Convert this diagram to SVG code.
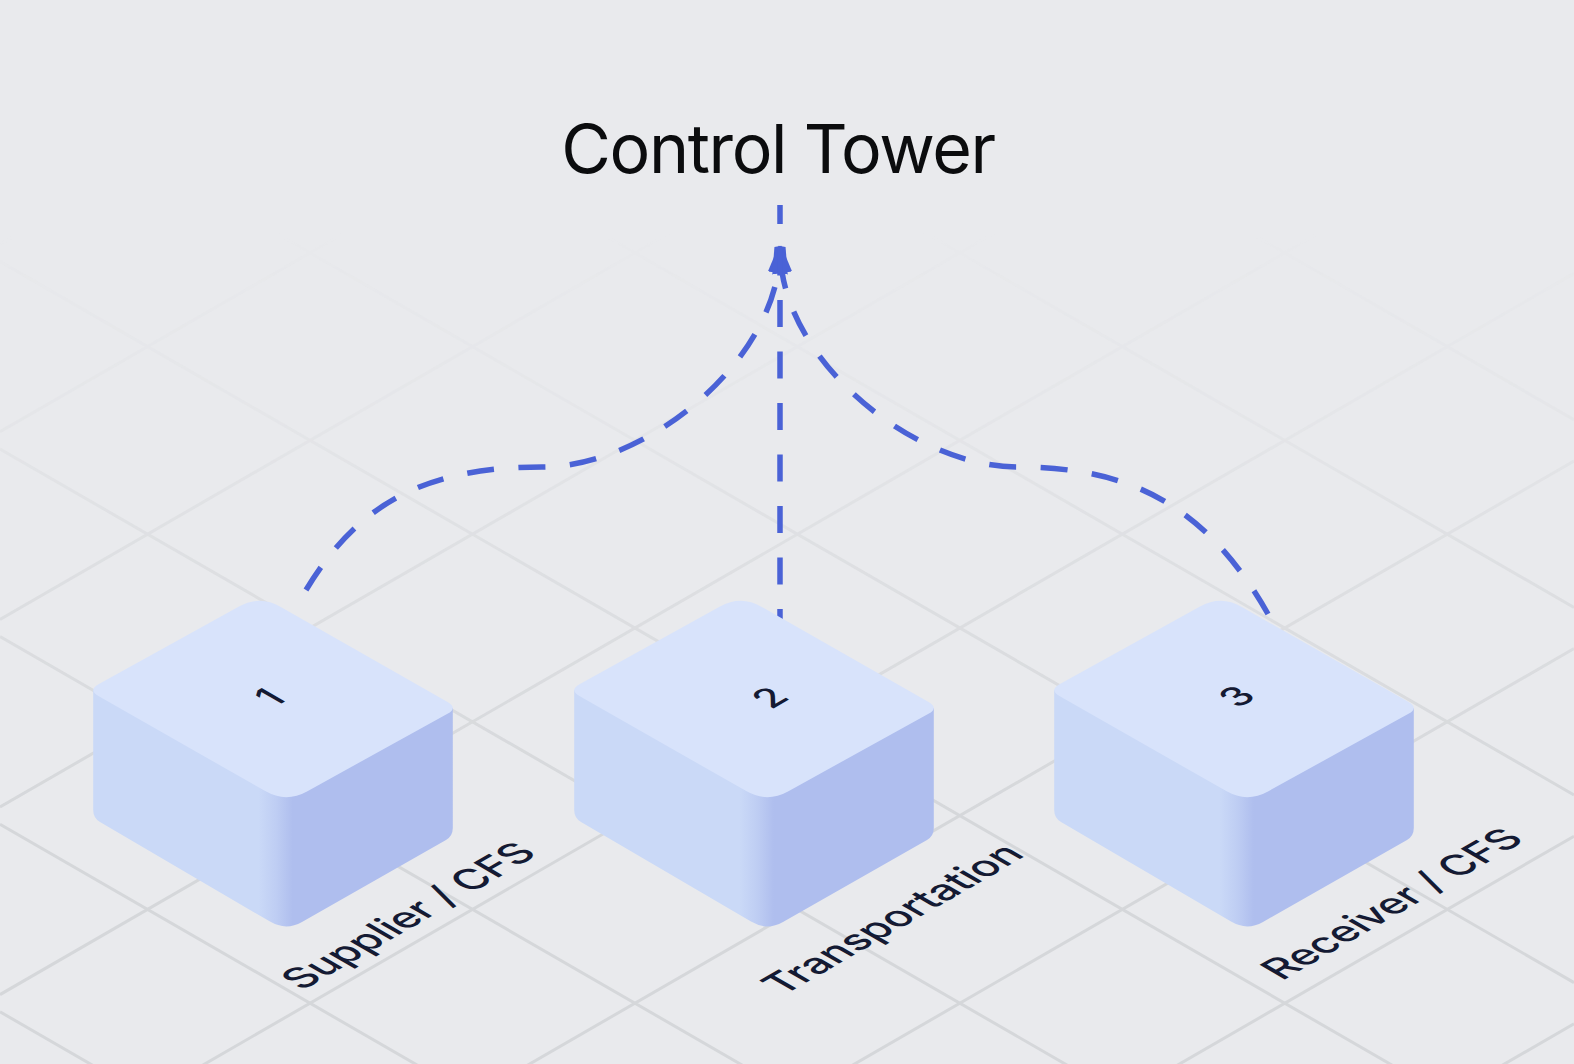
<svg xmlns="http://www.w3.org/2000/svg" xmlns:xlink="http://www.w3.org/1999/xlink" width="1574" height="1064" viewBox="0 0 1574 1064">
  <style>
    .grid line { stroke: #D5D7DA; stroke-width: 3; }
    .conn { fill: none; stroke: #4A62D6; stroke-width: 5.5; stroke-dasharray: 27 24.5; }
    .top { fill: #D8E3FB; }
    .sides { fill: url(#sideGrad); }
    .num { font-family: Inter, "Noto Sans", "Liberation Sans", sans-serif; font-size: 37px; font-weight: 500; fill: #141A33; text-anchor: middle; }
    .label { font-family: Inter, "Noto Sans", "Liberation Sans", sans-serif; font-size: 40px; font-weight: 500; fill: #141A33; }
    .title { font-family: Inter, "Noto Sans", "Liberation Sans", sans-serif; font-size: 68px; font-weight: 400; fill: #0B0C0E; text-anchor: middle; letter-spacing: -1.4px; }
  </style>
  <defs>
    <linearGradient id="sideGrad" x1="0" y1="0" x2="1" y2="0">
      <stop offset="0" stop-color="#CAD9F7"/>
      <stop offset="0.46" stop-color="#CAD9F7"/>
      <stop offset="0.51" stop-color="#BECDF3"/>
      <stop offset="0.555" stop-color="#AFBEEE"/>
      <stop offset="1" stop-color="#AFBEEE"/>
    </linearGradient>
    <linearGradient id="fadeGrad" gradientUnits="userSpaceOnUse" x1="0" y1="230" x2="0" y2="820">
      <stop offset="0" stop-color="#fff" stop-opacity="0"/>
      <stop offset="0.3" stop-color="#fff" stop-opacity="0.18"/>
      <stop offset="0.55" stop-color="#fff" stop-opacity="0.55"/>
      <stop offset="1" stop-color="#fff" stop-opacity="1"/>
    </linearGradient>
    <mask id="gridFade" maskUnits="userSpaceOnUse" x="0" y="0" width="1574" height="1064">
      <rect x="0" y="0" width="1574" height="1064" fill="url(#fadeGrad)"/>
    </mask>
    <marker id="arrow" viewBox="0 0 28 20" refX="1" refY="10" markerWidth="28" markerHeight="20" markerUnits="userSpaceOnUse" orient="auto">
      <path d="M0,0 L27,6.5 L27,13.5 L0,20 Z" fill="#4A62D6"/>
    </marker>
    <path id="box-sides" class="sides" d="M93.2,690 L93.2,810 Q93.2,818 100,822 L270,921.6 Q286,931 302,921.9 L446,840 Q452.8,836 452.8,828 L452.8,708 L286,790 Z"/>
    <path id="box-top" class="top" d="M280.8,606.9 L447.6,702.1 Q458,708 447.5,713.8 L307,791.4 Q286,803 265.2,791.1 L98.4,696 Q88,690 98.5,684.2 L239,606.6 Q260,595 280.8,606.9 Z"/>
  </defs>

  <rect x="0" y="0" width="1574" height="1064" fill="#E9EAED"/>

  <g id="grid" class="grid" mask="url(#gridFade)">
    <line x1="0" y1="-864.2" x2="1574" y2="44.6"/>
    <line x1="0" y1="-676.6" x2="1574" y2="232.2"/>
    <line x1="0" y1="-489" x2="1574" y2="419.8"/>
    <line x1="0" y1="-301.4" x2="1574" y2="607.4"/>
    <line x1="0" y1="-113.8" x2="1574" y2="795"/>
    <line x1="0" y1="73.8" x2="1574" y2="982.6"/>
    <line x1="0" y1="261.4" x2="1574" y2="1170.2"/>
    <line x1="0" y1="449" x2="1574" y2="1357.8"/>
    <line x1="0" y1="636.6" x2="1574" y2="1545.4"/>
    <line x1="0" y1="824.2" x2="1574" y2="1733"/>
    <line x1="0" y1="1011.8" x2="1574" y2="1920.6"/>
    <line x1="0" y1="56.6" x2="1574" y2="-852.2"/>
    <line x1="0" y1="244.2" x2="1574" y2="-664.6"/>
    <line x1="0" y1="431.8" x2="1574" y2="-477"/>
    <line x1="0" y1="619.4" x2="1574" y2="-289.4"/>
    <line x1="0" y1="807" x2="1574" y2="-101.8"/>
    <line x1="0" y1="994.6" x2="1574" y2="85.8"/>
    <line x1="0" y1="1182.2" x2="1574" y2="273.4"/>
    <line x1="0" y1="1369.8" x2="1574" y2="461"/>
    <line x1="0" y1="1557.4" x2="1574" y2="648.6"/>
    <line x1="0" y1="1745" x2="1574" y2="836.2"/>
    <line x1="0" y1="1932.6" x2="1574" y2="1023.8"/>
  </g>

  <g id="node-control-tower">
    <text class="title" x="778" y="173">Control Tower</text>
  </g>

  <g id="connectors">
    <path id="conn-supplier" class="conn" d="M306,590 C360,500 430,467 542,467 C642,467 762,372 778,272" marker-end="url(#arrow)"/>
    <path id="conn-receiver" class="conn" d="M1268,614 C1206,505 1130,467 1018,467 C918,467 798,372 782,272" marker-end="url(#arrow)"/>
    <path id="conn-transport" class="conn" d="M780,636 L780,205"/>
  </g>

  <g id="node-supplier">
    <use xlink:href="#box-sides"/>
    <use xlink:href="#box-top"/>
    <text class="num" transform="matrix(0.866 -0.5 0.866 0.5 281 704)">1</text>
    <text class="label" transform="matrix(0.866 -0.5 0.866 0.5 302 991)">Supplier / CFS</text>
  </g>

  <g id="node-transportation" transform="translate(481,0)">
    <use xlink:href="#box-sides"/>
    <use xlink:href="#box-top"/>
    <text class="num" transform="matrix(0.866 -0.5 0.866 0.5 300 704)">2</text>
    <text class="label" transform="matrix(0.866 -0.5 0.866 0.5 302 996)">Transportation</text>
  </g>

  <g id="node-receiver" transform="translate(961,0)">
    <use xlink:href="#box-sides"/>
    <use xlink:href="#box-top"/>
    <text class="num" transform="matrix(0.866 -0.5 0.866 0.5 287 703)">3</text>
    <text class="label" transform="matrix(0.866 -0.5 0.866 0.5 321 981)">Receiver / CFS</text>
  </g>
</svg>
